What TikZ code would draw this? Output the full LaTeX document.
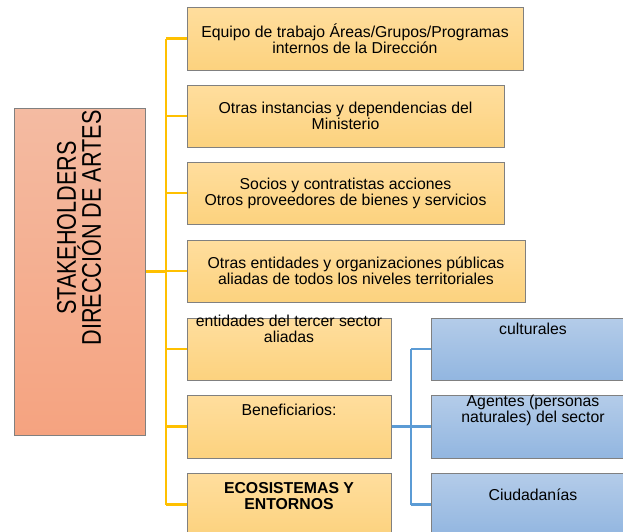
\documentclass[tikz,border=0pt]{standalone}
\usepackage{fontspec}
\setmainfont{Liberation Sans}
\definecolor{ortop}{RGB}{255,222,158}
\definecolor{orbot}{RGB}{252,210,126}
\definecolor{bltop}{RGB}{180,204,233}
\definecolor{blbot}{RGB}{146,182,224}
\definecolor{sktop}{RGB}{244,187,162}
\definecolor{skbot}{RGB}{245,163,128}
\definecolor{orline}{RGB}{255,192,0}
\definecolor{blline}{RGB}{91,155,213}
\tikzset{
  box/.style={draw=black!50,line width=1pt,rectangle,inner sep=0pt,align=center,
    font=\fontsize{15.8}{16}\selectfont},
  obox/.style={box,top color=ortop,bottom color=orbot},
  bbox/.style={box,top color=bltop,bottom color=blbot},
  txt/.style={align=center,inner sep=0pt,font=\fontsize{15.8}{16}\selectfont},
  oline/.style={orline,line width=2.6pt},
  bline/.style={blline,line width=2.8pt}
}
\begin{document}
\begin{tikzpicture}[x=1pt,y=-1pt]
\useasboundingbox (0,0) rectangle (623,531);
\node[box,top color=sktop,bottom color=skbot,minimum width=131pt,minimum height=327pt] (stk) at (79.5,271.5) {};
\node[txt,rotate=90,yscale=1.25,font=\fontsize{21.6}{18.5}\selectfont] (stkt) at (79,228) {STAKEHOLDERS\\DIRECCIÓN DE ARTES};
\node[obox,minimum width=336pt,minimum height=63pt] (eq) at (355,38.5) {Equipo de trabajo Áreas/Grupos/Programas\\internos de la Dirección};
\node[obox,minimum width=317pt,minimum height=62pt] (otr) at (345.5,116) {Otras instancias y dependencias del\\Ministerio};
\node[obox,minimum width=317pt,minimum height=62pt] (soc) at (345.5,193) {Socios y contratistas acciones\\Otros proveedores de bienes y servicios};
\node[obox,minimum width=338pt,minimum height=62pt] (ent) at (356,271) {Otras entidades y organizaciones públicas\\aliadas de todos los niveles territoriales};
\node[obox,minimum width=204pt,minimum height=62pt] (ter) at (289,349) {};
\node[obox,minimum width=204pt,minimum height=63pt] (ben) at (289,426.5) {};
\node[obox,minimum width=204pt,minimum height=63pt] (eco) at (289,504.5) {};
\node[bbox,minimum width=204pt,minimum height=62pt] (cul) at (533,349) {};
\node[bbox,minimum width=204pt,minimum height=63pt] (age) at (533,426.5) {};
\node[bbox,minimum width=204pt,minimum height=63pt] (ciu) at (533,504.5) {};
\node[txt] (tert) at (289,329) {entidades del tercer sector\\aliadas};
\node[txt] (bent) at (289,410) {Beneficiarios:};
\node[txt,font=\fontsize{15.8}{16}\selectfont\bfseries] (ecot) at (289,496) {ECOSISTEMAS Y\\ENTORNOS};
\node[txt] (cult) at (533,329) {culturales};
\node[txt] (aget) at (533,410) {Agentes (personas\\naturales) del sector};
\node[txt] (ciut) at (533,495) {Ciudadanías};
\coordinate (tk) at (166,271.5);
\coordinate (bk) at (411,426.5);
\draw[oline] (stk.east) -- (tk);
\draw[oline] (tk |- eq.west) -- (tk |- eco.west);
\foreach \n in {eq,otr,soc,ent,ter,ben,eco}
  \draw[oline] (tk |- \n.west) -- (\n.west);
\draw[bline] (ben.east) -- (bk);
\draw[bline] (bk |- cul.west) -- (bk |- ciu.west);
\foreach \n in {cul,age,ciu}
  \draw[bline] (bk |- \n.west) -- (\n.west);
\end{tikzpicture}
\end{document}
